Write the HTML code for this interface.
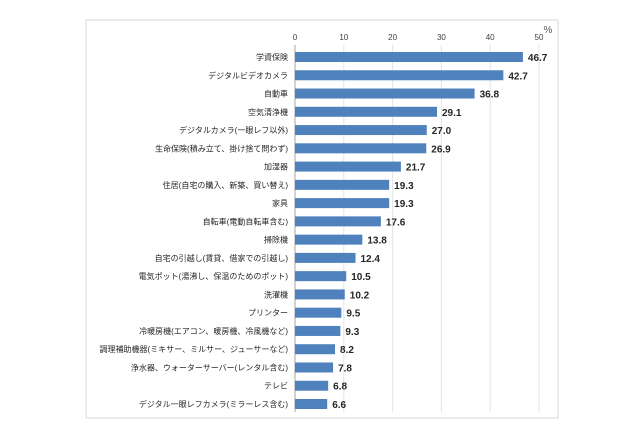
<!DOCTYPE html>
<html><head><meta charset="utf-8"><style>
body{margin:0;background:#fff;}
svg text{font-family:"Liberation Sans","Noto Sans CJK JP",sans-serif;}
</style></head><body>
<svg width="640" height="426" viewBox="0 0 640 426">
<rect x="86" y="20" width="472" height="398" fill="#fff" stroke="#d9d9d9" stroke-width="1"/>
<g id="grid"></g><g id="bars"></g>
<text x="548" y="33" font-size="10" fill="#595959" text-anchor="middle">%</text>
</svg>
<script>
const categories=["学資保険","デジタルビデオカメラ","自動車","空気清浄機","デジタルカメラ(一眼レフ以外)","生命保険(積み立て、掛け捨て問わず)","加湿器","住居(自宅の購入、新築、買い替え)","家具","自転車(電動自転車含む)","掃除機","自宅の引越し(賃貸、借家での引越し)","電気ポット(湯沸し、保温のためのポット)","洗濯機","プリンター","冷暖房機(エアコン、暖房機、冷風機など)","調理補助機器(ミキサー、ミルサー、ジューサーなど)","浄水器、ウォーターサーバー(レンタル含む)","テレビ","デジタル一眼レフカメラ(ミラーレス含む)"];
const values=[46.7,42.7,36.8,29.1,27.0,26.9,21.7,19.3,19.3,17.6,13.8,12.4,10.5,10.2,9.5,9.3,8.2,7.8,6.8,6.6];
const ticks=[0,10,20,30,40,50];
const NS="http://www.w3.org/2000/svg";
const x=v=>295+v*(539-295)/50;
const y=i=>57+i*(404-57)/19;
function mk(t,a,p){const e=document.createElementNS(NS,t);for(const k in a)e.setAttribute(k,a[k]);p.appendChild(e);return e;}
const g=document.getElementById('grid'),b=document.getElementById('bars');
ticks.forEach(t=>{
 const l=mk('line',{x1:x(t),x2:x(t),y1:45,y2:412,stroke:t===0?'#a6a6a6':'#e3e3e3','stroke-width':1},g);
 
 
 const tx=mk('text',{x:x(t),y:40,'font-size':8,fill:'#404040','text-anchor':'middle'},g);tx.textContent=t;
 
 
});
categories.forEach((c,i)=>{
 const r=mk('rect',{x:x(0),y:y(i)-5,width:x(values[i])-x(0),height:10,fill:'#4f81bd'},b);
 
 
 const lb=mk('text',{x:288,y:y(i)+3,'font-size':8,fill:'#262626','text-anchor':'end'},b);lb.textContent=c;
 
 
 const v=mk('text',{x:x(values[i])+5,y:y(i)+4,'font-size':10,'font-weight':'bold',fill:'#262626'},b);v.textContent=values[i].toFixed(1);
 
 
});
</script>
</body></html>
